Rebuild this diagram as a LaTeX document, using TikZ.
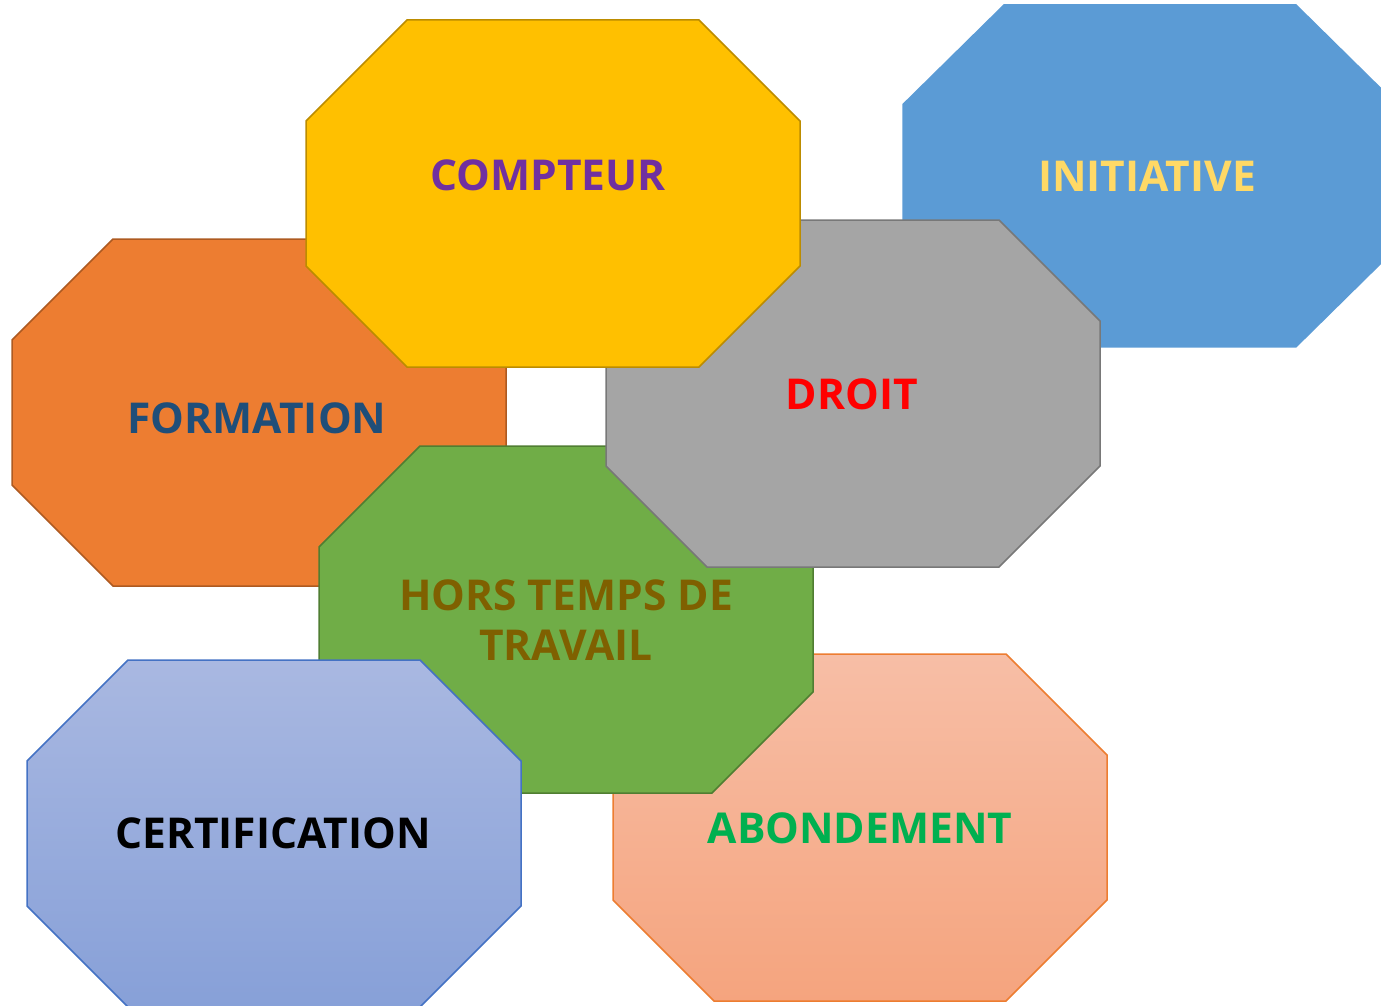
\documentclass[tikz,border=0pt]{standalone}
\usepackage{fontspec}
\setmainfont{Open Sans}
\usetikzlibrary{positioning}

\definecolor{orangeFill}{HTML}{ED7D31}
\definecolor{orangeLine}{HTML}{AE5A21}
\definecolor{yellowFill}{HTML}{FFC000}
\definecolor{yellowLine}{HTML}{BC8C00}
\definecolor{blueFill}{HTML}{5B9BD5}
\definecolor{grayFill}{HTML}{A5A5A5}
\definecolor{grayLine}{HTML}{787878}
\definecolor{greenFill}{HTML}{70AD47}
\definecolor{greenLine}{HTML}{507E32}
\definecolor{lavTop}{HTML}{A9B8E1}
\definecolor{lavBot}{HTML}{87A0D8}
\definecolor{lavLine}{HTML}{4472C4}
\definecolor{salmonTop}{HTML}{F7BEA6}
\definecolor{salmonBot}{HTML}{F5A47E}
\definecolor{navyText}{HTML}{1F4E79}
\definecolor{purpleText}{HTML}{7030A0}
\definecolor{goldText}{HTML}{FFD966}
\definecolor{brownText}{HTML}{7F6000}
\definecolor{greenText}{HTML}{00B050}

% one octagon, corner at (#2,#3)
\newcommand{\octagon}[3]{%
  \filldraw[shift={(#2,#3)}, #1] (101,0) -- (393,0) -- (494,101) -- (494,246)
    -- (393,347) -- (101,347) -- (0,246) -- (0,101) -- cycle;}

\begin{document}
\begin{tikzpicture}[
  x=1pt, y=-1pt,
  line width=1.5pt,
  label/.style = {font=\fontsize{42.5}{50}\selectfont\bfseries,
    align=center, inner sep=0pt}]
  \useasboundingbox (0,0) rectangle (1381,1006);
  \clip (0,0) rectangle (1381,1006);

  \octagon{fill=orangeFill, draw=orangeLine}{12}{239}
  \node[label, text=navyText] (formation) at (257,418) {FORMATION};

  \octagon{fill=blueFill, draw=blueFill, yscale=0.985}{903}{5}
  \node[label, text=goldText] (initiative) at (1147,176) {INITIATIVE};

  \octagon{top color=salmonTop, bottom color=salmonBot, draw=orangeFill}{613}{654}
  \node[label, text=greenText] (abondement) at (860,828) {ABONDEMENT};

  \octagon{fill=greenFill, draw=greenLine}{319}{446}
  \node[label, text=brownText] (hors) at (566,620) {HORS TEMPS DE\\TRAVAIL};

  \octagon{top color=lavTop, bottom color=lavBot, draw=lavLine}{27}{660}
  \node[label, text=black] (certif) at (273,833) {CERTIFICATION};

  \octagon{fill=grayFill, draw=grayLine}{606}{220}
  \node[label, text=red] (droit) at (852,394) {DROIT};

  \octagon{fill=yellowFill, draw=yellowLine}{306}{20}
  \node[label, text=purpleText] (compteur) at (548,175) {COMPTEUR};
\end{tikzpicture}
\end{document}
